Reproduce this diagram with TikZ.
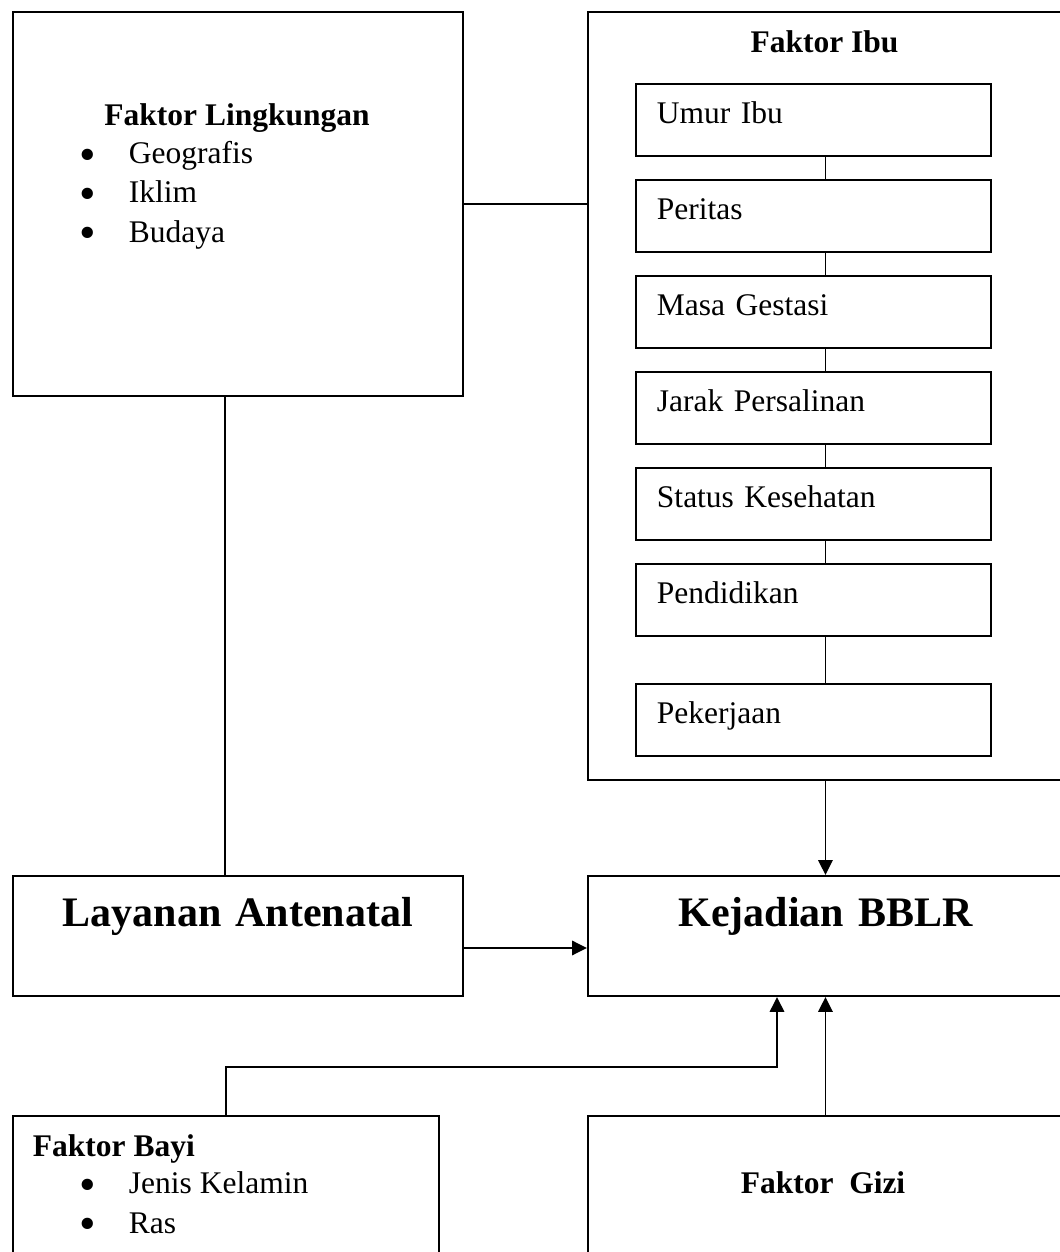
\documentclass[tikz,border=0pt]{standalone}
\usepackage{fontspec}
\usepackage{graphicx}
\setmainfont{Liberation Serif}
\usetikzlibrary{arrows.meta, calc}
\newlength{\px}
\setlength{\px}{0.381pt}
\newcommand{\itembullet}{\makebox[49\px][l]{\raisebox{-2.6pt}[0pt][0pt]{\scalebox{1.5}{\textbullet}}}}

\begin{document}
\begin{tikzpicture}[
        x=0.381pt, y=-0.381pt,
        line width=0.75pt,
        framebox/.style={
            draw,
            anchor=north west,
            inner sep=0pt
        },
        ibuitem/.style={
            framebox,
            inner xsep=21\px,
            text width=313\px,
            align=left,
            text height=40\px,
            text depth=32\px,
            font=\fontsize{12pt}{15pt}\selectfont
        },
        mainbox/.style={
            framebox,
            align=center,
            text height=51\px,
            text depth=69\px,
            font=\fontsize{16pt}{19pt}\selectfont\bfseries
        },
        bodytext/.style={
            inner sep=0pt,
            align=left,
            font=\fontsize{12pt}{15pt}\selectfont
        },
        headtext/.style={
            bodytext,
            font=\fontsize{12pt}{15pt}\selectfont\bfseries
        },
        arrowlink/.style={
            -{Triangle[length=5.7pt,width=5.5pt]}
        }
    ]

    % Ukuran dalam piksel gambar asli (1 px = 0.381 pt), sumbu y ke bawah.
    \useasboundingbox (0,0) rectangle (1060,1252);

    % Faktor lingkungan
    \node[framebox, minimum width=450\px, minimum height=384\px] (lingk) at (12,11) {};
    \node[headtext, anchor=base] (lingktitle) at (237,125) {Faktor Lingkungan};
    % base = garis dasar baris terakhir
    \node[bodytext, anchor=base west] (lingklist) at (79,242)
        {\itembullet Geografis\\\itembullet Iklim\\\itembullet Budaya};
    \coordinate (lingkout) at (225,0);

    % Faktor ibu
    \node[framebox, minimum width=475\px, minimum height=768\px] (ibu) at (587,11) {};
    \node[headtext, anchor=base] (ibutitle) at (824.5,52) {Faktor Ibu};
    \node[ibuitem] (umur) at (635,83) {Umur Ibu};
    \node[ibuitem] (peritas) at (635,179) {Peritas};
    \node[ibuitem] (gestasi) at (635,275) {Masa Gestasi};
    \node[ibuitem] (jarak) at (635,371) {Jarak Persalinan};
    \node[ibuitem] (sehat) at (635,467) {Status Kesehatan};
    \node[ibuitem] (didik) at (635,563) {Pendidikan};
    \node[ibuitem] (kerja) at (635,683) {Pekerjaan};

    % Layanan dan kejadian
    \node[mainbox, text width=450\px] (layanan) at (12,875) {Layanan Antenatal};
    \node[mainbox, text width=475\px] (bblr) at (587,875) {Kejadian BBLR};

    % Faktor bayi dan gizi
    \node[framebox, minimum width=426\px, minimum height=200\px] (bayi) at (12,1115) {};
    \node[headtext, anchor=base west] (bayititle) at (32,1156) {Faktor Bayi};
    \node[bodytext, anchor=base west] (bayilist) at (79,1233)
        {\itembullet Jenis Kelamin\\\itembullet Ras};
    \coordinate (bayibend) at (777,1067);

    \node[framebox, minimum width=475\px, minimum height=200\px] (gizi) at (587,1115) {};
    \node[headtext, anchor=base] (gizititle) at (823,1193) {Faktor\ \ Gizi};

    % Garis penghubung
    \draw (lingk.east) -- (lingk.east -| ibu.west);
    \draw (lingkout |- lingk.south) -- (lingkout |- layanan.north);

    \draw (umur.south -| ibu.north) -- (peritas.north -| ibu.north);
    \draw (peritas.south -| ibu.north) -- (gestasi.north -| ibu.north);
    \draw (gestasi.south -| ibu.north) -- (jarak.north -| ibu.north);
    \draw (jarak.south -| ibu.north) -- (sehat.north -| ibu.north);
    \draw (sehat.south -| ibu.north) -- (didik.north -| ibu.north);
    \draw (didik.south -| ibu.north) -- (kerja.north -| ibu.north);

    \draw[arrowlink] (ibu.south) -- (bblr.north);
    \draw[arrowlink] ([yshift=-12\px]layanan.east) -- ([yshift=-12\px]bblr.west);
    \draw[arrowlink] (bayi.north) |- (bayibend) -- (bayibend |- bblr.south);
    \draw[arrowlink] (gizi.north) -- (bblr.south);

\end{tikzpicture}
\end{document}
